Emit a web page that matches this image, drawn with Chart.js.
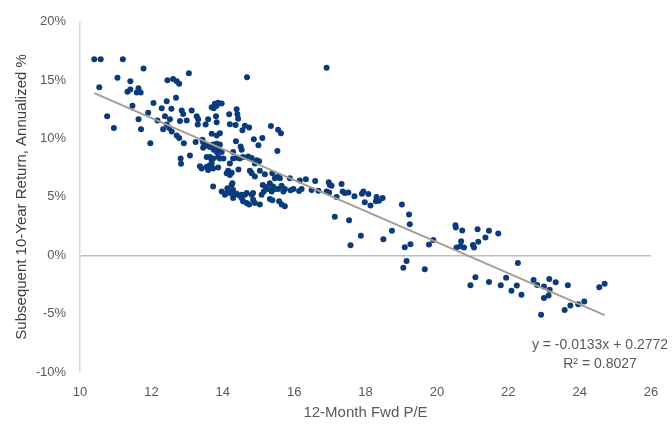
<!DOCTYPE html>
<html>
<head>
<meta charset="utf-8">
<script src="https://cdn.jsdelivr.net/npm/chart.js@4"></script>
<style>
  html, body { margin: 0; padding: 0; background: #fff; }
  #wrap { width: 672px; height: 426px; }
</style>
</head>
<body>
<div id="wrap"><canvas id="pe-chart" width="672" height="426"></canvas></div>
<script>
// 12-month forward P/E (x) and subsequent 10-year annualized return in % (y)
const fwdPE = [
  10.40, 10.58, 11.20, 11.78, 10.54, 11.05, 11.41, 11.41, 11.33, 11.64, 11.59, 11.70, 12.45, 12.61, 12.71, 12.78, 13.05, 12.69, 11.47, 10.76,
  10.95, 11.64, 11.71, 11.97, 11.91, 12.06, 12.29, 12.43, 12.56, 12.38, 12.52, 12.43, 12.17, 12.33, 12.50, 12.57, 12.71, 12.78, 12.85, 12.89,
  12.80, 12.99, 13.13, 13.27, 13.31, 13.30, 12.91, 12.82, 12.83, 13.08, 13.24, 13.43, 13.52, 13.59, 13.69, 13.81, 13.83, 13.83,
  13.78, 13.87, 13.97, 13.69, 13.75, 13.83,
  16.91, 14.68, 14.39, 14.18, 14.41, 14.43, 14.20, 14.36, 14.62, 14.74, 14.55, 15.35, 15.55, 15.63, 14.37, 14.87, 15.11, 15.00, 14.50, 14.53,
  15.53, 14.29, 14.39, 14.48, 14.57, 14.71, 14.81, 14.95, 15.02, 14.90, 14.20, 14.15, 14.25, 14.11, 14.20, 14.44, 14.76, 14.81, 14.90, 15.04,
  15.18, 15.39, 15.55, 15.60, 15.46, 15.88, 16.16, 16.33, 16.59, 16.97, 17.00, 17.05, 16.91, 16.98, 17.19, 16.68, 16.49, 16.21, 16.14, 15.98,
  15.90, 15.74, 15.65, 15.70, 15.55, 15.32, 15.41, 15.37, 15.27, 15.46, 15.21, 15.12, 15.15, 15.09, 15.32, 15.39, 15.58, 15.65, 15.74, 15.04,
  14.90, 14.85, 14.81, 14.85, 14.62, 14.67, 14.74, 14.57, 14.29, 14.25, 14.34, 14.20, 14.13, 14.27, 14.48, 14.53, 14.11, 13.97, 13.73,
  13.92, 13.45, 13.55, 13.45, 13.64, 13.73, 13.83, 13.92, 13.87, 13.97, 13.83, 13.75, 13.55, 13.64, 13.69, 13.73, 13.87, 13.92, 13.36, 13.41,
  13.55, 13.64, 13.69, 13.59, 13.73, 13.87, 14.02, 14.29, 14.06, 14.39, 14.53, 14.67, 14.29, 14.25,
  17.33, 17.36, 17.42, 17.52, 17.69, 17.90, 17.94, 18.08, 17.98, 18.14, 18.31, 18.38, 18.48, 18.29, 17.14, 17.54, 17.87, 17.58, 18.50, 18.74,
  19.02, 19.22, 19.24, 19.26, 19.10, 19.15, 19.06, 19.66, 19.78, 19.90, 20.52, 20.53, 20.71, 20.68, 20.55, 20.66, 20.76, 21.01, 21.04, 21.16,
  21.14, 21.08,
  21.46, 21.72, 21.36, 22.27, 20.94, 21.46, 21.79, 21.94, 22.09, 22.24, 22.37, 22.71, 22.81, 23.00, 23.15, 23.33, 23.16, 23.13, 23.00, 23.67,
  22.92, 23.58, 23.74, 23.96, 24.13, 24.55, 24.70
];
const tenYrReturn = [
  16.8, 16.8, 16.8, 16.0, 14.4, 15.2, 14.9, 14.2, 14.0, 14.3, 13.95, 13.95, 15.0, 15.1, 14.9, 14.7, 15.6, 13.5, 12.8, 11.9,
  10.9, 11.65, 10.8, 9.6, 12.2, 13.05, 12.6, 13.2, 12.55, 11.9, 11.65, 11.2, 11.55, 10.8, 10.9, 10.6, 10.25, 10.05, 12.4, 12.1,
  11.5, 11.55, 12.4, 11.9, 11.65, 11.2, 9.6, 8.3, 7.85, 8.55, 9.7, 9.9, 11.2, 11.65, 10.4, 11.9, 11.4, 10.25,
  12.98, 13.06, 13.0, 12.69, 12.6, 12.8,
  16.06, 15.25, 12.5, 12.07, 12.07, 11.7, 11.23, 11.15, 11.1, 10.95, 10.7, 11.07, 10.75, 10.45, 9.77, 9.94, 10.05, 9.43, 9.32, 9.04,
  8.93, 8.84, 8.36, 8.28, 8.42, 8.47, 8.34, 8.14, 8.05, 7.86, 7.86, 7.24, 7.07, 7.02, 6.87, 7.35, 7.24, 7.02, 6.74, 7.24,
  6.93, 7.02, 6.74, 6.6, 6.6, 6.6, 6.4, 6.51, 6.37, 6.26, 6.03, 5.95, 5.47, 5.38, 4.99, 5.52, 5.6, 5.67, 5.5, 5.67,
  5.56, 5.67, 5.95, 5.47, 5.67, 6.17, 5.89, 5.47, 5.67, 5.67, 5.84, 6.03, 5.47, 5.19, 4.82, 4.71, 4.63, 4.34, 4.2, 4.34,
  4.48, 4.76, 5.19, 5.33, 5.19, 4.48, 4.34, 4.63, 5.6, 5.27, 5.19, 5.47, 5.75, 6.17, 5.1, 4.91, 5.33, 5.47, 5.89,
  10.45, 9.69, 9.4, 9.2, 9.27, 9.49, 9.55, 9.49, 9.12, 8.84, 8.84, 9.04, 8.42, 8.42, 8.14, 8.28, 8.42, 8.28, 7.63, 7.44,
  7.58, 7.72, 7.86, 7.3, 7.44, 7.52, 8.28, 8.28, 5.19, 5.27, 5.19, 5.33, 4.91, 6.03,
  6.11, 5.47, 5.33, 5.38, 5.05, 5.27, 5.47, 5.24, 4.54, 4.26, 4.99, 4.68, 4.91, 4.63, 3.3, 2.99, 1.68, 0.86, 1.37, 2.1,
  4.34, 3.5, 2.66, 0.94, 0.69, -0.5, -1.08, -1.2, 0.92, 1.3, 2.57, 2.38, 2.12, 1.21, 0.66, 0.78, 0.66, 0.89, 0.66, 1.16,
  2.22, -1.89,
  2.1, 1.87, 1.52, -0.66, -2.57, -2.29, -2.57, -1.92, -3.05, -2.6, -3.38, -2.12, -2.54, -2.68, -2.03, -2.32, -2.96, -3.44, -3.67, -2.57,
  -5.1, -4.68, -4.31, -4.2, -3.95, -2.74, -2.45
];

// linear trend from the chart's equation (y as a fraction, converted to %)
const trendSlope = -0.0133;
const trendIntercept = 0.2772;
const trendRSquared = 0.8027;
const trendRange = [10.4, 24.7];

const yTicks = [-10, -5, 0, 5, 10, 15, 20];
const xTicks = [10, 12, 14, 16, 18, 20, 22, 24, 26];

const points = fwdPE.map((pe, i) => ({ x: pe, y: tenYrReturn[i] }));
const trend = trendRange.map(x => ({ x: x, y: (trendSlope * x + trendIntercept) * 100 }));

const FONT = '"Liberation Sans", Arial, sans-serif';
const TEXT = '#595959';

// equation + R² label, like Excel's trendline label
const trendLabel = {
  id: 'trendLabel',
  afterDraw(chart) {
    const c = chart.ctx;
    c.save();
    c.fillStyle = TEXT;
    c.font = '14px ' + FONT;
    c.textAlign = 'center';
    c.textBaseline = 'middle';
    c.fillText('y = ' + trendSlope.toFixed(4) + 'x + ' + trendIntercept.toFixed(4), 600, 345);
    c.fillText('R² = ' + trendRSquared.toFixed(4), 600, 364);
    c.restore();
  }
};

new Chart(document.getElementById('pe-chart'), {
  type: 'scatter',
  data: {
    datasets: [{
      label: 'Trend',
      data: trend,
      showLine: true,
      borderColor: '#a39d92',
      borderWidth: 2,
      pointRadius: 0,
      order: 0
    }, {
      label: 'Observations',
      data: points,
      backgroundColor: '#0c3b7c',
      borderWidth: 0,
      pointRadius: 3,
      order: 1
    }]
  },
  options: {
    responsive: false,
    animation: false,
    layout: { padding: { left: 0, right: 21, top: 16, bottom: 0 } },
    plugins: {
      legend: { display: false },
      tooltip: { enabled: false }
    },
    scales: {
      x: {
        type: 'linear',
        min: 10,
        max: 26,
        afterBuildTicks: (axis) => { axis.ticks = xTicks.map(v => ({ value: v })); },
        afterFit: (axis) => { axis.height = 54; },
        grid: { display: false, drawTicks: false },
        border: { display: false },
        ticks: { color: TEXT, font: { family: FONT, size: 13 }, padding: 13 },
        title: {
          display: true,
          text: '12-Month Fwd P/E',
          color: TEXT,
          font: { family: FONT, size: 15 },
          padding: { top: 0, bottom: 4 }
        }
      },
      y: {
        min: -10,
        max: 20,
        afterBuildTicks: (axis) => { axis.ticks = yTicks.map(v => ({ value: v })); },
        afterFit: (axis) => { axis.width = 80; },
        grid: {
          drawTicks: false,
          color: (ctx) => (ctx.tick && ctx.tick.value === 0 ? '#bfbfbf' : 'rgba(0,0,0,0)'),
          lineWidth: 1.5
        },
        border: { display: true, color: '#d9d9d9', width: 1.5 },
        ticks: {
          color: TEXT,
          font: { family: FONT, size: 13 },
          padding: 14,
          callback: (v) => v + '%'
        },
        title: {
          display: true,
          text: 'Subsequent 10-Year Return, Annualized %',
          color: '#404040',
          font: { family: FONT, size: 15 },
          padding: { top: 13, bottom: 13 }
        }
      }
    }
  },
  plugins: [trendLabel]
});
</script>
</body>
</html>
